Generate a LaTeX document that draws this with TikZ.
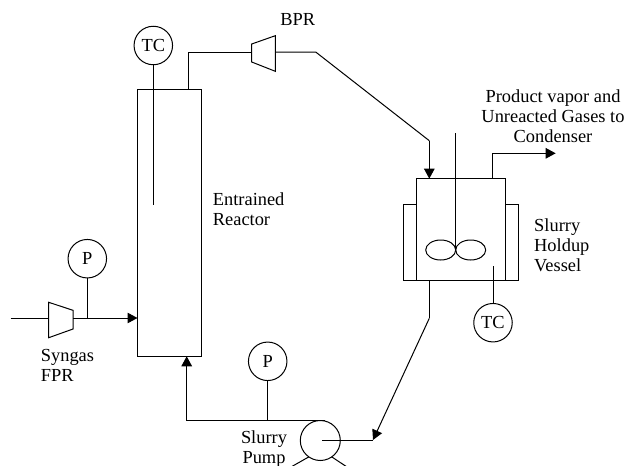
\documentclass[tikz,border=0pt]{standalone}
\usepackage{fontspec}
\setmainfont{Liberation Serif}
\usetikzlibrary{arrows.meta,shapes.geometric}
\tikzset{
  line/.style={line width=1pt},
  flow/.style={line, -{Triangle[length=10pt,width=10.5pt]}},
  gauge/.style={draw, line width=1pt, circle, minimum size=38.5pt, inner sep=0pt, outer sep=0pt, font=\fontsize{18.4}{20}\selectfont},
  unit/.style={draw, line width=1pt, rectangle, inner sep=0pt, outer sep=0pt},
  blade/.style={draw, line width=1pt, ellipse, minimum width=30pt, minimum height=20pt, inner sep=0pt, outer sep=0pt},
  caption/.style={inner sep=0pt, align=#1, font=\fontsize{18.4}{20}\selectfont},
  caption/.default=center
}
\begin{document}
\begin{tikzpicture}[x=1pt, y=-1pt]
        \useasboundingbox (0,0) rectangle (627,466);
        \clip (0,0) rectangle (627,466);
        % reactor
        \node[unit, minimum width=63.5pt, minimum height=266.5pt] (reactor) at (169.25,223) {};
        \node[gauge] (tcreactor) at (153.3,45.5) {TC};
        \coordinate (tcreactorend) at (153.3,205);
        \draw[line] (tcreactor) -- (tcreactorend);
        \node[caption=left, anchor=west] (reactorname) at (212.7,209) {Entrained\\Reactor};
        % syngas feed
        \coordinate (feedin) at (10.5,318);
        \coordinate (fprin) at (48.7,318);
        \coordinate (fprout) at (73,318);
        \draw[line] (48.7,302.3) -- (73,310.3) -- (73,329) -- (48.7,337.7) -- cycle;
        \draw[line] (feedin) -- (fprin);
        \draw[flow] (fprout) -- (reactor.west |- fprout);
        \node[gauge] (pfeed) at (87.3,258.7) {P};
        \draw[line] (pfeed) -- (pfeed |- fprout);
        \node[caption=left, anchor=west] (fprname) at (40.7,365) {Syngas\\FPR};
        % back pressure regulator
        \coordinate (bprin) at (251.7,52);
        \coordinate (bprout) at (275.3,52);
        \coordinate (risertop) at (188,52);
        \coordinate (bend) at (315.7,52);
        \coordinate (bendlow) at (429.3,140.7);
        \draw[line] (251.7,44) -- (275.3,35.7) -- (275.3,71.3) -- (251.7,62) -- cycle;
        \draw[line] (risertop |- reactor.north) -- (risertop) -- (bprin);
        \node[caption] (bprname) at (297.7,20) {BPR};
        % vessel
        \node[unit, minimum width=88.6pt, minimum height=101.3pt] (vessel) at (461,229.35) {};
        \coordinate (jacketleft) at (403.7,204);
        \coordinate (jacketright) at (518.3,204);
        \draw[line] (vessel.west |- jacketleft) -- (jacketleft) -- (jacketleft |- vessel.south) -- (vessel.south west);
        \draw[line] (vessel.east |- jacketright) -- (jacketright) -- (jacketright |- vessel.south) -- (vessel.south east);
        \draw[line] (bprout) -- (bend) -- (bendlow);
        \draw[flow] (bendlow) -- (bendlow |- vessel.north);
        \node[blade] (bladeleft) at (440.7,250) {};
        \node[blade] (bladeright) at (470.7,250) {};
        \coordinate (shafttop) at (455.7,133.3);
        \draw[line] (shafttop) -- (shafttop |- bladeleft);
        \coordinate (ventbend) at (492.7,153.3);
        \coordinate (ventend) at (555.7,153.3);
        \draw[line] (ventbend |- vessel.north) -- (ventbend);
        \draw[flow] (ventbend) -- (ventend);
        \node[caption] (ventname) at (553,116.5) {Product vapor and\\Unreacted Gases to\\Condenser};
        \node[caption=left, anchor=west] (vesselname) at (534,245.5) {Slurry\\Holdup\\Vessel};
        \node[gauge] (tcvessel) at (493,322.7) {TC};
        \coordinate (tcvesselend) at (493,266);
        \draw[line] (tcvessel) -- (tcvesselend);
        % slurry pump
        \node[draw, line width=1pt, circle, minimum size=40pt, inner sep=0pt, outer sep=0pt] (pump) at (320.3,440.5) {};
        \coordinate (pumpin) at (322,440);
        \coordinate (pumpinend) at (373,440);
        \coordinate (drainbend) at (429.3,318.3);
        \coordinate (returnbend) at (186.7,420.7);
        \coordinate (pumpout) at (325,420.7);
        \draw[line] (drainbend |- vessel.south) -- (drainbend);
        \draw[flow] (drainbend) -- (pumpinend);
        \draw[line] (pumpinend) -- (pumpin);
        \draw[line] (pumpout) -- (returnbend);
        \draw[flow] (returnbend) -- (returnbend |- reactor.south);
        \node[gauge] (ppump) at (267.7,361.3) {P};
        \draw[line] (ppump) -- (ppump |- returnbend);
        \coordinate (legleft) at (291,467);
        \coordinate (legright) at (347,467);
        \draw[line] (pump.-125) -- (legleft);
        \draw[line] (pump.-55) -- (legright);
        \node[caption] (pumpname) at (264,449) {Slurry\\Pump};
  \end{tikzpicture}
\end{document}
